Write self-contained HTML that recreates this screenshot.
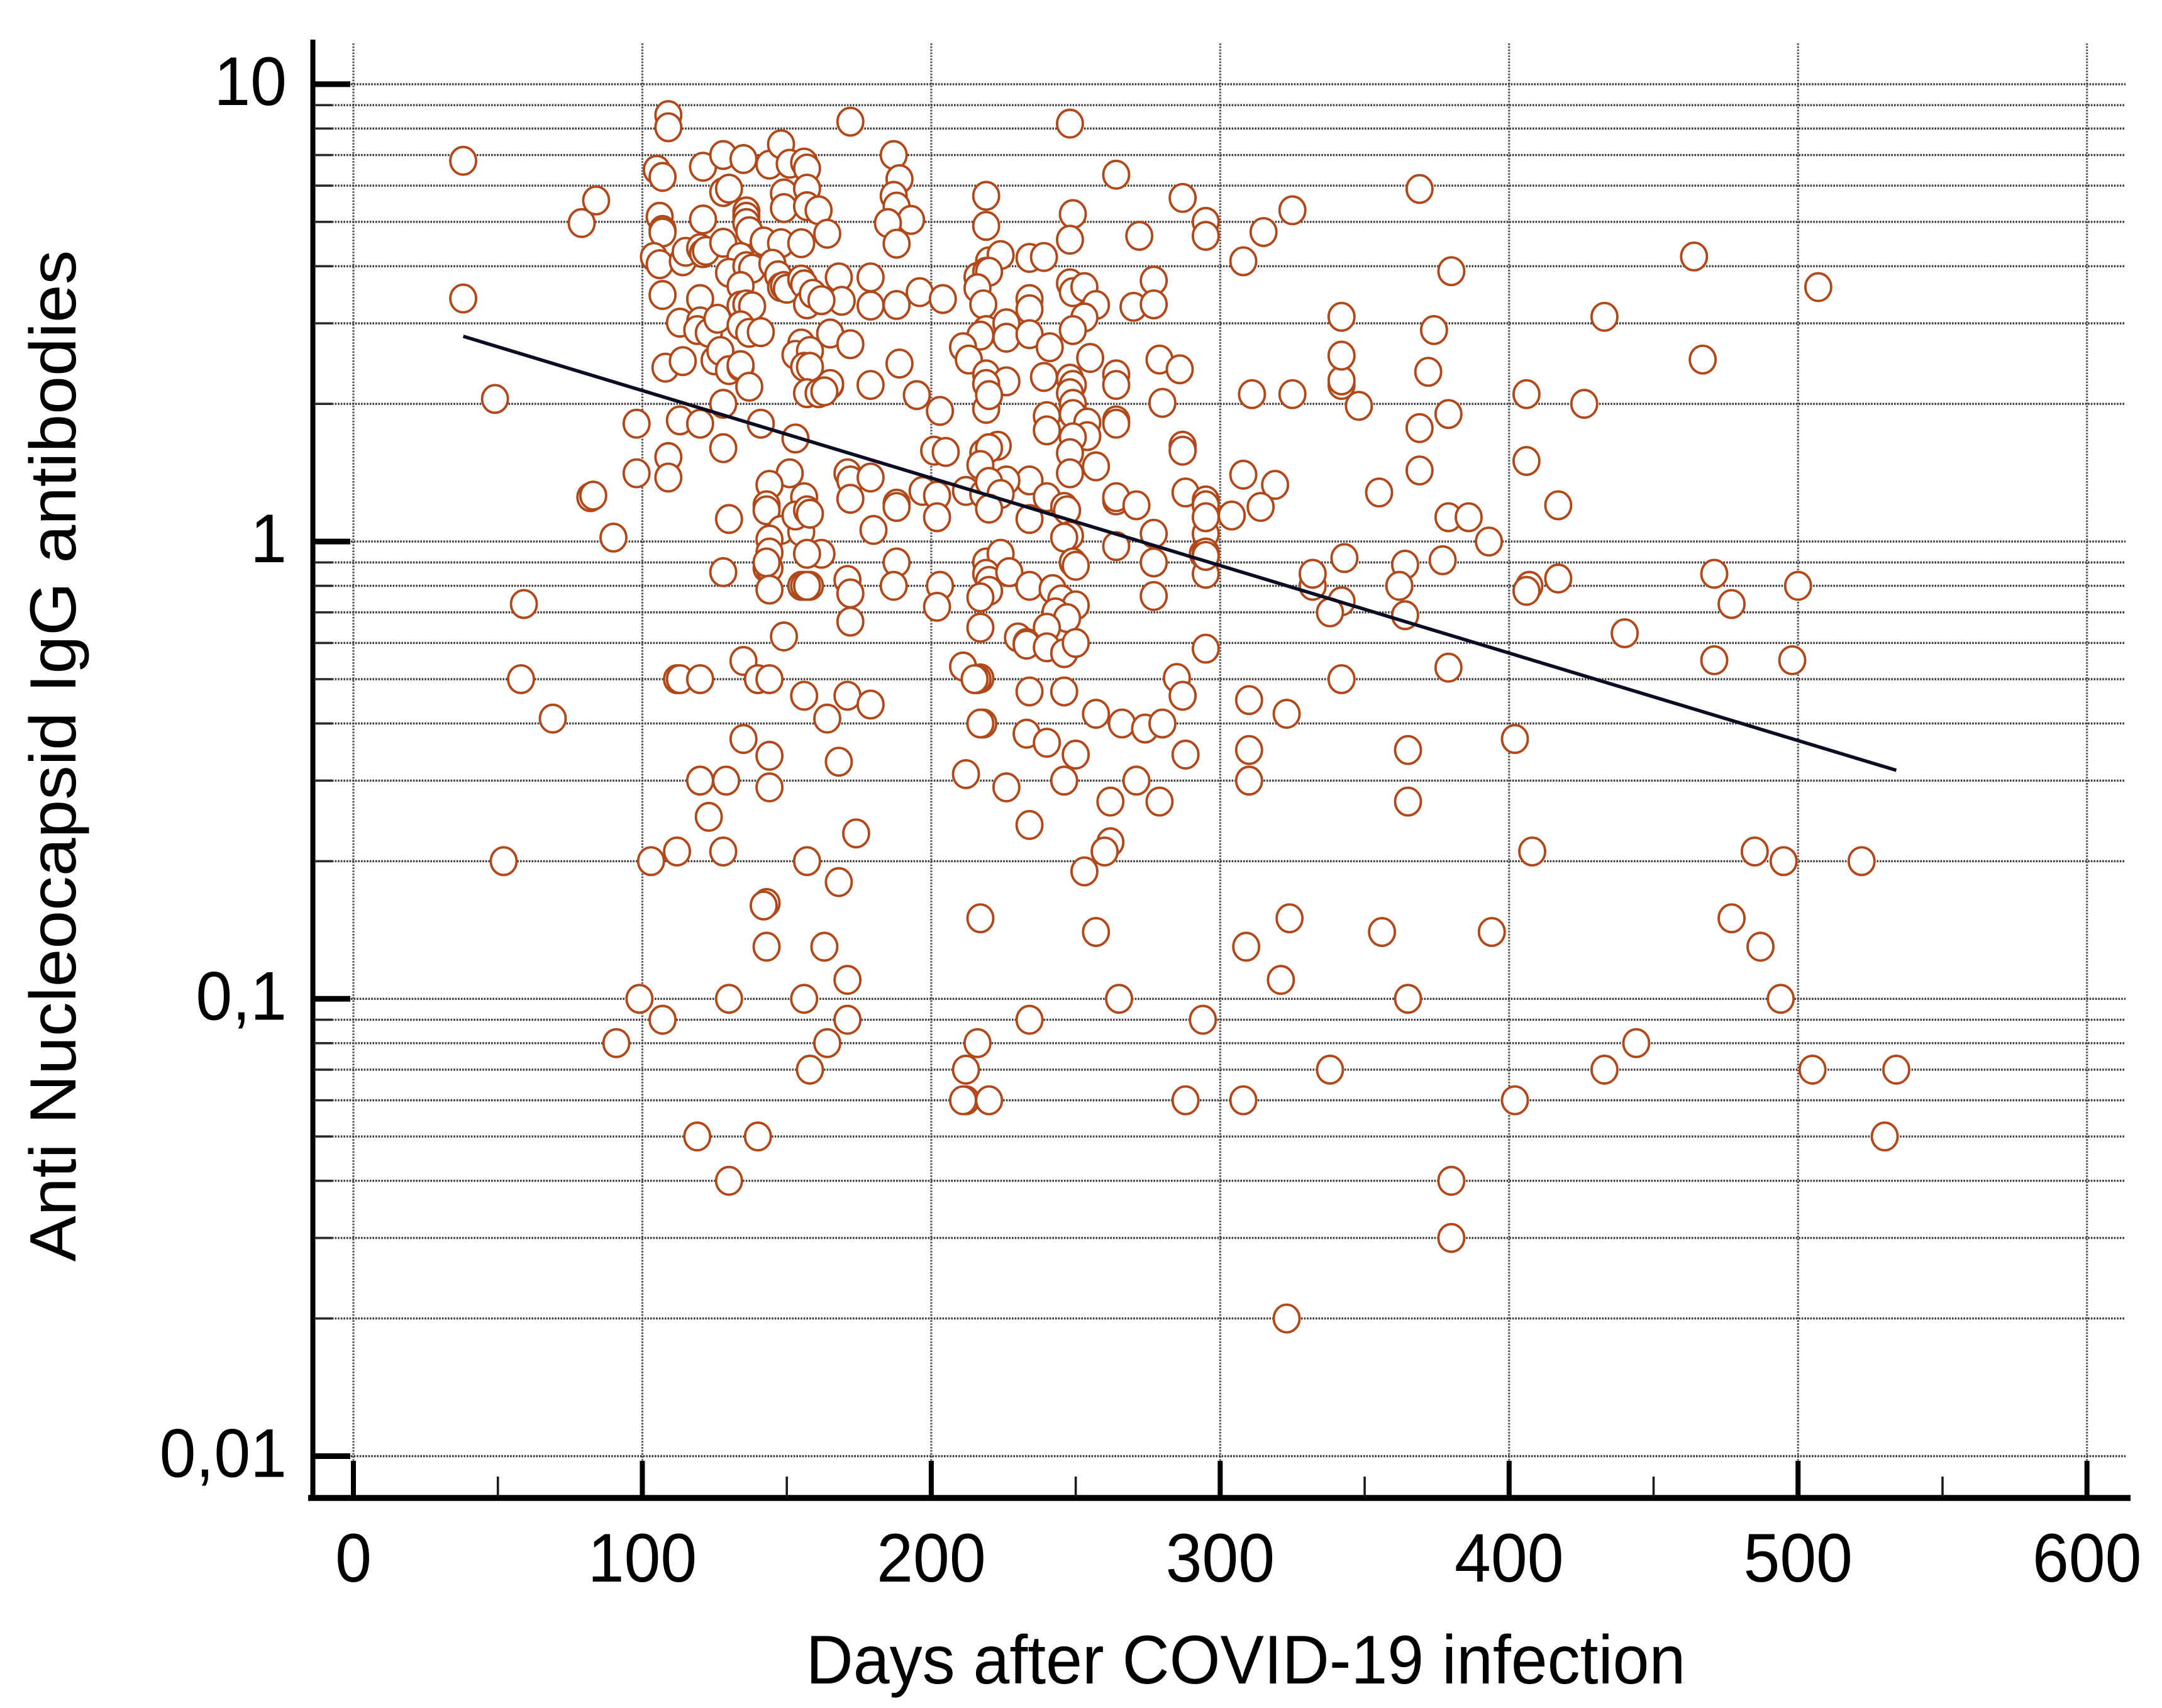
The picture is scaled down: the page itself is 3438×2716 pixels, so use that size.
<!DOCTYPE html>
<html lang="en">
<head>
<meta charset="utf-8">
<title>Anti Nucleocapsid IgG antibodies vs days after COVID-19 infection</title>
<style>
html,body{margin:0;padding:0;background:#fff;}
svg{display:block;}
text{font-family:"Liberation Sans",Arial,sans-serif;fill:#000;}
</style>
</head>
<body>
<svg id="chart" xmlns="http://www.w3.org/2000/svg" width="3438" height="2716" viewBox="0 0 3438 2716">
  <rect x="0" y="0" width="3438" height="2716" fill="#ffffff"/>
  <g id="grid"></g>
  <g id="points"></g>
  <g id="trend"></g>
  <g id="axes"></g>
  <text transform="translate(1981,2677) scale(1,1.05)" font-size="104" text-anchor="middle">Days after COVID-19 infection</text>
  <text transform="translate(120,1202) scale(1,1.05) rotate(-90)" font-size="104" text-anchor="middle">Anti Nucleocapsid IgG antibodies</text>
</svg>
<script>
const days = [
38,38,49,79,84,82,83,90,98,98,
59,58,69,52,99,91,107,103,112,112,
109,109,105,107,121,128,135,144,148,151,
156,157,128,130,149,149,157,157,161,106,
107,107,121,136,136,136,137,142,148,155,
104,106,114,115,120,121,122,128,134,130,
136,138,134,145,147,148,149,150,155,156,
157,159,107,120,113,120,119,123,126,134,
136,138,134,137,141,155,153,158,156,158,
108,114,125,127,130,134,134,137,157,161,
128,113,120,141,153,128,109,109,151,144,
156,143,172,248,187,189,187,188,193,185,
188,164,219,219,264,287,295,295,249,248,
272,220,224,234,239,216,219,220,216,218,
168,179,169,179,188,196,204,162,165,172,
189,179,165,165,163,195,203,219,217,211,
213,226,226,234,234,234,241,248,249,253,
257,253,249,255,277,270,277,279,286,280,
219,226,219,219,220,239,248,249,248,264,
264,240,240,249,249,254,254,249,264,264,
248,248,257,287,287,201,205,218,223,220,
171,172,179,217,234,226,172,188,197,202,
212,218,220,224,240,264,264,271,288,295,
188,202,180,220,234,246,247,248,246,264,
277,277,277,295,295,294,295,295,249,250,
162,188,187,171,172,172,203,202,158,155,
219,224,219,220,220,217,227,234,242,245,
250,243,247,240,230,233,233,240,246,250,
217,295,211,217,216,234,246,257,266,274,
280,285,287,288,171,179,164,168,174,218,
217,233,240,250,246,212,226,234,271,262,
279,262,260,253,168,217,130,143,148,155,
153,157,144,144,143,144,143,144,157,128,
156,157,149,135,113,120,140,144,156,135,
144,120,129,144,123,128,157,143,142,143,
163,130,156,171,171,164,158,119,140,130,
216,212,212,211,220,234,257,265,294,288,
308,309,321,324,338,356,365,380,380,323,
402,394,433,444,408,477,487,485,495,522,
494,505,534,530,402,365,365,310,310,310,
323,342,379,440,471,498,477,471,500,417,
407,406,364,362,364,342,338,332,332,343,
377,393,379,386,417,355,369,406,369,379,
348,342,342,342,342,372,374,406,426,433,
467,507,464,380,369,325,315,308,311,325,
319,314,308,304,295,295,215,158
];
const antibodyValues = [
6.8,3.4,2.05,4.97,5.57,1.25,1.26,1.02,1.81,1.41,
.73,.5,.41,.2,.1,.08,.09,.2,.21,.5,
8.56,8.05,6.5,6.27,6.6,7.0,6.86,6.67,7.39,6.7,
6.74,6.54,5.81,5.91,5.77,5.36,5.91,5.41,5.3,5.13,
4.8,4.74,5.06,5.27,5.13,4.97,4.77,4.53,4.49,4.49,
4.19,4.04,4.1,4.3,4.38,4.27,4.32,4.5,4.19,3.87,
4.0,3.95,3.62,4.05,3.82,3.6,3.62,3.57,3.74,3.65,
3.3,3.48,3.46,3.39,3.01,3.03,2.9,2.86,3.07,3.28,
3.3,3.27,2.97,2.86,2.87,2.71,2.56,2.61,2.41,2.41,
2.40,2.48,2.49,2.61,2.37,2.41,2.43,2.18,2.11,2.11,
2.0,1.84,1.81,1.81,1.68,1.6,1.53,1.38,1.41,1.33,
1.25,1.2,8.28,8.2,7.0,6.2,5.7,5.4,5.05,4.97,
4.48,4.71,5.7,4.9,6.34,5.64,5.0,4.66,5.2,4.57,
4.66,4.1,4.23,4.17,4.19,3.79,3.89,3.89,3.58,3.3,
3.78,3.78,3.36,3.28,3.29,3.51,3.39,3.37,2.85,2.7,
2.45,2.2,2.2,2.21,2.13,2.09,1.93,2.9,2.82,2.66,
2.5,3.0,2.79,3.39,3.22,2.84,2.66,3.67,3.51,3.6,
3.29,3.09,2.9,2.52,3.72,3.26,3.3,2.5,2.38,2.01,
2.32,2.24,2.21,1.95,2.09,2.29,2.27,2.2,2.11,2.32,
2.2,1.88,1.75,2.0,1.9,1.82,1.7,1.69,1.84,1.81,
1.56,1.41,1.46,1.62,1.58,1.58,1.57,1.56,1.62,1.6,
1.41,1.36,1.38,1.47,1.36,1.36,1.24,1.21,1.29,1.26,
1.29,1.27,1.35,1.27,1.25,1.23,1.25,1.2,1.28,1.23,
1.19,1.13,1.06,1.18,1.12,1.19,1.17,1.03,1.02,.977,
1.04,.9,.76,1.2,1.04,.94,.946,.85,.9,.885,
.94,.9,.8,.824,.77,.668,.8,.72,.8,.8,
.9,.94,.85,.82,.78,.755,.857,.8,.787,.747,
.725,.7,.68,.648,.617,.6,.595,.587,.57,.6,
.648,.583,.533,.502,.5,.47,.47,.42,.4,.39,
.4,.503,.46,.342,.46,.44,.41,.33,.23,.4,
.4,.38,.363,.342,.3,.31,.29,.24,.3,.27,
.27,.22,.21,.19,.18,.15,1.12,1.17,1.06,1.05,
1.14,1.17,1.01,.946,.875,.875,.9,.785,.94,.857,
.8,.8,.62,.548,.5,.5,.5,.5,.46,.37,
.34,.3,.3,.29,.25,.21,.2,.162,.16,.13,
.13,.1,.1,.11,.09,.08,.07,.05,.05,.04,
.08,.07,.06,.06,.06,.09,.14,.1,.09,.06,
.06,.13,.11,.15,.07,.14,.1,.04,.03,.02,
.06,.14,.07,.08,.21,.15,.13,.21,.2,.2,
.1,.07,.07,.05,.37,.35,.27,.45,.35,.3,
.42,.5,.53,.63,.55,.55,.73,.85,.8,.83,
.8,.78,.89,.8,.69,.74,.7,.8,.85,.92,
.91,1.0,1.13,1.13,1.2,1.28,1.43,1.5,1.77,1.9,
1.98,2.2,2.25,2.55,3.1,2.35,2.9,2.1,2.0,3.1,
2.5,3.6,4.2,3.9,5.9,5.3,4.75,4.1,2.1,2.1,
1.33,1.19,1.4,1.14,1.13,.93,.5,1.15
];
const trendDays = [38, 534];
const trendValues = [2.81, 0.316];
const xMajorTicks = [0, 100, 200, 300, 400, 500, 600];
const xMinorTicks = [50, 150, 250, 350, 450, 550];
const yMajorTicks = [0.01, 0.1, 1, 10];
const yTickLabels = ['0,01', '0,1', '1', '10'];
const yMinorTicks = [0.02,0.03,0.04,0.05,0.06,0.07,0.08,0.09,0.2,0.3,0.4,0.5,0.6,0.7,0.8,0.9,2,3,4,5,6,7,8,9];

const SVG_NS = 'http://www.w3.org/2000/svg';
function xScale(d) { return 562 + d * 4.5945; }
function yScale(v) { return 2315.5 - (Math.log10(v) + 2) * 727.2; }
function makeLine(x1, y1, x2, y2, color, width, dash) {
  const l = document.createElementNS(SVG_NS, 'line');
  l.setAttribute('x1', x1);
  l.setAttribute('y1', y1);
  l.setAttribute('x2', x2);
  l.setAttribute('y2', y2);
  l.setAttribute('stroke', color);
  l.setAttribute('stroke-width', width);
  if (dash) l.setAttribute('stroke-dasharray', dash);
  return l;
}
const gridGroup = document.getElementById('grid');
const pointGroup = document.getElementById('points');
const trendGroup = document.getElementById('trend');
const axesGroup = document.getElementById('axes');
const GRID_COLOR = '#3c3c3c';

xMajorTicks.forEach(function (t) {
  const g = makeLine(xScale(t), 69, xScale(t), 2323, '#555555', 3.2, '2.6 2.2');
  
  
  gridGroup.appendChild(g);
});
yMajorTicks.forEach(function (t) {
  const g = makeLine(558, yScale(t), 3380, yScale(t), GRID_COLOR, 3.4, '2.6 2');
  
  
  gridGroup.appendChild(g);
});
yMinorTicks.forEach(function (t) {
  const g = makeLine(528, yScale(t), 3380, yScale(t), GRID_COLOR, 3.4, '2.6 2');
  
  
  gridGroup.appendChild(g);
});

days.forEach(function (d, i) {
  const c = document.createElementNS(SVG_NS, 'ellipse');
  c.setAttribute('cx', xScale(d));
  c.setAttribute('cy', yScale(antibodyValues[i]));
  c.setAttribute('rx', 20.5);
  c.setAttribute('ry', 22);
  c.setAttribute('fill', '#ffffff');
  c.setAttribute('stroke', '#b0481a');
  c.setAttribute('stroke-width', 3.8);
  
  
  pointGroup.appendChild(c);
});

const trendLine = makeLine(xScale(trendDays[0]), yScale(trendValues[0]), xScale(trendDays[1]), yScale(trendValues[1]), '#0a0d24', 5.5);


trendGroup.appendChild(trendLine);

const yAxisLine = makeLine(497.5, 63, 497.5, 2386, '#000000', 8);


axesGroup.appendChild(yAxisLine);
const xAxisLine = makeLine(490, 2382, 3388, 2382, '#000000', 9.5);


axesGroup.appendChild(xAxisLine);

yMajorTicks.forEach(function (t, i) {
  const tick = makeLine(500, yScale(t), 557, yScale(t), '#000000', 9);
  
  
  axesGroup.appendChild(tick);
  const label = document.createElementNS(SVG_NS, 'text');
  label.setAttribute('transform', 'translate(456,' + (yScale(t) + 33) + ') scale(1,1.05)');
  label.setAttribute('font-size', 104);
  label.setAttribute('text-anchor', 'end');
  label.textContent = yTickLabels[i];
  
  
  axesGroup.appendChild(label);
});
yMinorTicks.forEach(function (t) {
  const tick = makeLine(500, yScale(t), 528, yScale(t), '#2a2a2a', 3.6);
  
  
  axesGroup.appendChild(tick);
});
xMajorTicks.forEach(function (t) {
  const tick = makeLine(xScale(t), 2323, xScale(t), 2380, '#000000', 8);
  
  
  axesGroup.appendChild(tick);
  const label = document.createElementNS(SVG_NS, 'text');
  label.setAttribute('transform', 'translate(' + xScale(t) + ',2515) scale(1,1.05)');
  label.setAttribute('font-size', 104);
  label.setAttribute('text-anchor', 'middle');
  label.textContent = String(t);
  
  
  axesGroup.appendChild(label);
});
xMinorTicks.forEach(function (t) {
  const tick = makeLine(xScale(t), 2348, xScale(t), 2380, '#1a1a1a', 3.6);
  
  
  axesGroup.appendChild(tick);
});
</script>
</body>
</html>
